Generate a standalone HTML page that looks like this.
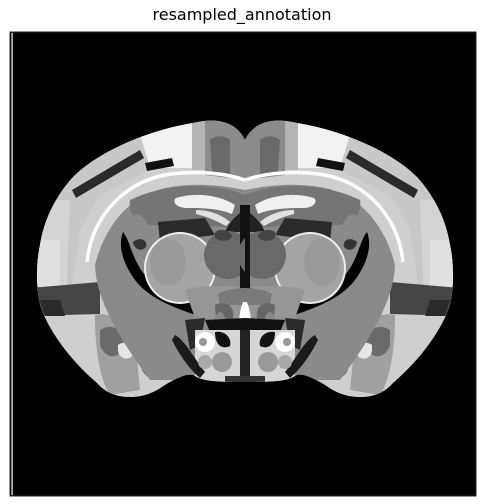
<!DOCTYPE html>
<html><head><meta charset="utf-8"><style>
body{margin:0;background:#fff;width:484px;height:504px;overflow:hidden}
#t{position:absolute;left:0;top:5px;width:484px;text-align:center;font:16px "DejaVu Sans","Liberation Sans",sans-serif;color:#000}
svg{position:absolute;left:0;top:0}
</style></head><body>
<div id="t">resampled_annotation</div>
<svg width="484" height="504">
<defs>
<clipPath id="brainclip"><path d="M245,140 C235,120 215,118 193,123 C150,130 100,150 73,177 C55,197 44,220 40,245 C36,265 36,285 40,305 C48,330 70,360 97,383 C105,392 115,397 130,397 C145,397 155,392 165,385 C178,377 190,372 195,376 C203,381 215,382 245,382 C275,382 287,381 295,376 C300,372 312,377 325,385 C335,392 345,397 360,397 C375,397 385,392 393,383 C420,360 442,330 450,305 C454,285 454,265 450,245 C446,220 435,197 417,177 C390,150 340,130 297,123 C275,118 255,120 245,140 Z"/></clipPath>
</defs>
<rect x="10" y="32" width="466" height="464" fill="#000" stroke="#222" stroke-width="1"/>
<rect x="11.5" y="33" width="1.2" height="462" fill="#fff"/>
<g clip-path="url(#brainclip)">
<rect x="30" y="110" width="430" height="300" fill="#cfcfcf"/>
<g id="half">
 <path d="M30,110 L245,110 L245,160 L150,170 L100,195 L80,230 L70,300 L30,300 Z" fill="#c8c8c8"/>
 <path d="M30,200 L70,200 L66,300 L30,300Z" fill="#d4d4d4"/>
 <path d="M30,240 L60,240 L60,290 L30,290Z" fill="#e0e0e0"/>
 <path d="M133,110 L192,110 L192,168 L150,168 Z" fill="#f2f2f2"/>
 <path d="M192,110 L205,110 L205,170 L192,170Z" fill="#b5b5b5"/>
 <path d="M205,110 L245,110 L245,180 L205,175Z" fill="#8c8c8c"/>
 <path d="M210,140 C215,135 225,135 230,140 L230,175 L212,172Z" fill="#6a6a6a"/>
 <path d="M72,190 L140,150 L144,158 L76,198Z" fill="#2a2a2a"/>
 <path d="M145,163 L172,158 L174,166 L147,171Z" fill="#111"/>
 <path d="M30,288 L100,282 L100,314 L30,316Z" fill="#454545"/>
 <path d="M40,300 L60,300 L65,316 L45,316Z" fill="#2a2a2a"/>
 <path d="M95,315 C110,312 130,320 135,340 L140,390 L110,395 C100,380 95,350 95,315Z" fill="#a0a0a0"/>
 <path d="M100,330 C112,322 125,330 123,345 C121,360 105,360 100,345Z" fill="#6a6a6a"/>
 <path d="M118,345 C124,340 135,345 133,355 C128,362 118,358 118,350Z" fill="#e6e6e6"/>
 <path d="M140,335 C155,325 175,335 170,360 C165,380 150,385 142,370Z" fill="#6a6a6a"/>
 <path d="M95,265 C105,225 130,196 165,188 C190,183 215,184 245,190 L245,380 L150,380 C120,340 96,300 95,265Z" fill="#8a8a8a"/>
 <path d="M87,262 C92,215 125,183 165,175 C195,170 225,173 245,180" fill="none" stroke="#fff" stroke-width="3.5"/>
 <path d="M130,200 C160,185 210,180 245,195 L245,230 C220,225 180,225 150,225 C135,222 128,212 130,200Z" fill="#757575"/>
 <path d="M176,198 C195,192 220,195 235,205 L232,214 C218,208 200,208 185,208 C176,207 172,202 176,198Z" fill="#f0f0f0"/>
 <path d="M196,210 C210,210 222,215 230,222 L226,226 C215,220 205,216 196,214Z" fill="#e0e0e0"/>
 <path d="M134,215 C142,212 150,222 148,238 C146,248 138,248 134,242Z" fill="#8a8a8a"/>
 <path d="M133,242 C140,236 148,240 146,247 C142,252 134,250 133,242Z" fill="#333"/>
 <path d="M123,232 C130,240 132,260 145,275 C160,292 190,300 210,310 L205,318 C180,310 150,300 135,280 C122,262 118,245 123,232Z" fill="#000"/>
 <path d="M158,222 L205,218 L215,235 L160,242Z" fill="#2a2a2a"/>
 <ellipse cx="180" cy="268" rx="36" ry="36" fill="#eee"/>
 <ellipse cx="180" cy="268" rx="34" ry="34" fill="#a4a4a4"/>
 <ellipse cx="168" cy="262" rx="18" ry="24" fill="#9a9a9a"/>
 <path d="M185,290 C200,285 230,285 245,288 L245,320 L195,318 Z" fill="#969696"/>
 <path d="M245,210 C235,215 228,225 225,232 L245,232Z" fill="#222"/>
 <circle cx="228" cy="255" r="24" fill="#696969"/>
 <path d="M215,232 C220,228 230,230 232,236 C230,242 220,242 215,238Z" fill="#444"/>
 <path d="M240,205 L245,205 L245,290 L240,290Z" fill="#111"/>
 <path d="M218,294 C228,288 245,288 245,288 L245,305 L220,305Z" fill="#7a7a7a"/>
 <path d="M215,305 C225,300 235,305 233,318 C230,330 220,330 216,320Z" fill="#666"/>
 <ellipse cx="220" cy="320" rx="5" ry="8" fill="#888"/>
 <path d="M243,302 C240,310 238,320 240,328 L245,328 L245,302Z" fill="#fff"/>
 <path d="M205,320 L245,318 L245,330 L210,332Z" fill="#111"/>
 <path d="M185,320 L205,318 L200,345 L190,350 Z" fill="#2a2a2a"/>
 <path d="M195,330 L245,330 L245,382 L195,382Z" fill="#d6d6d6"/>
 <path d="M175,335 C185,340 195,360 205,372 L200,378 C188,368 178,352 172,340Z" fill="#1a1a1a"/>
 <circle cx="205" cy="342" r="10" fill="#fff"/>
 <circle cx="203" cy="342" r="4" fill="#999"/>
 <path d="M215,332 C225,330 232,338 230,346 C222,350 215,345 215,332Z" fill="#111"/>
 <circle cx="222" cy="362" r="10" fill="#9a9a9a"/>
 <circle cx="205" cy="362" r="7" fill="#a8a8a8"/>
 <path d="M240,330 L245,330 L245,382 L240,382Z" fill="#222"/>
 <path d="M225,376 L245,376 L245,382 L225,382Z" fill="#333"/>
</g>
<use href="#half" transform="translate(490,0) scale(-1,1)"/>
</g>
</svg>
</body></html>
